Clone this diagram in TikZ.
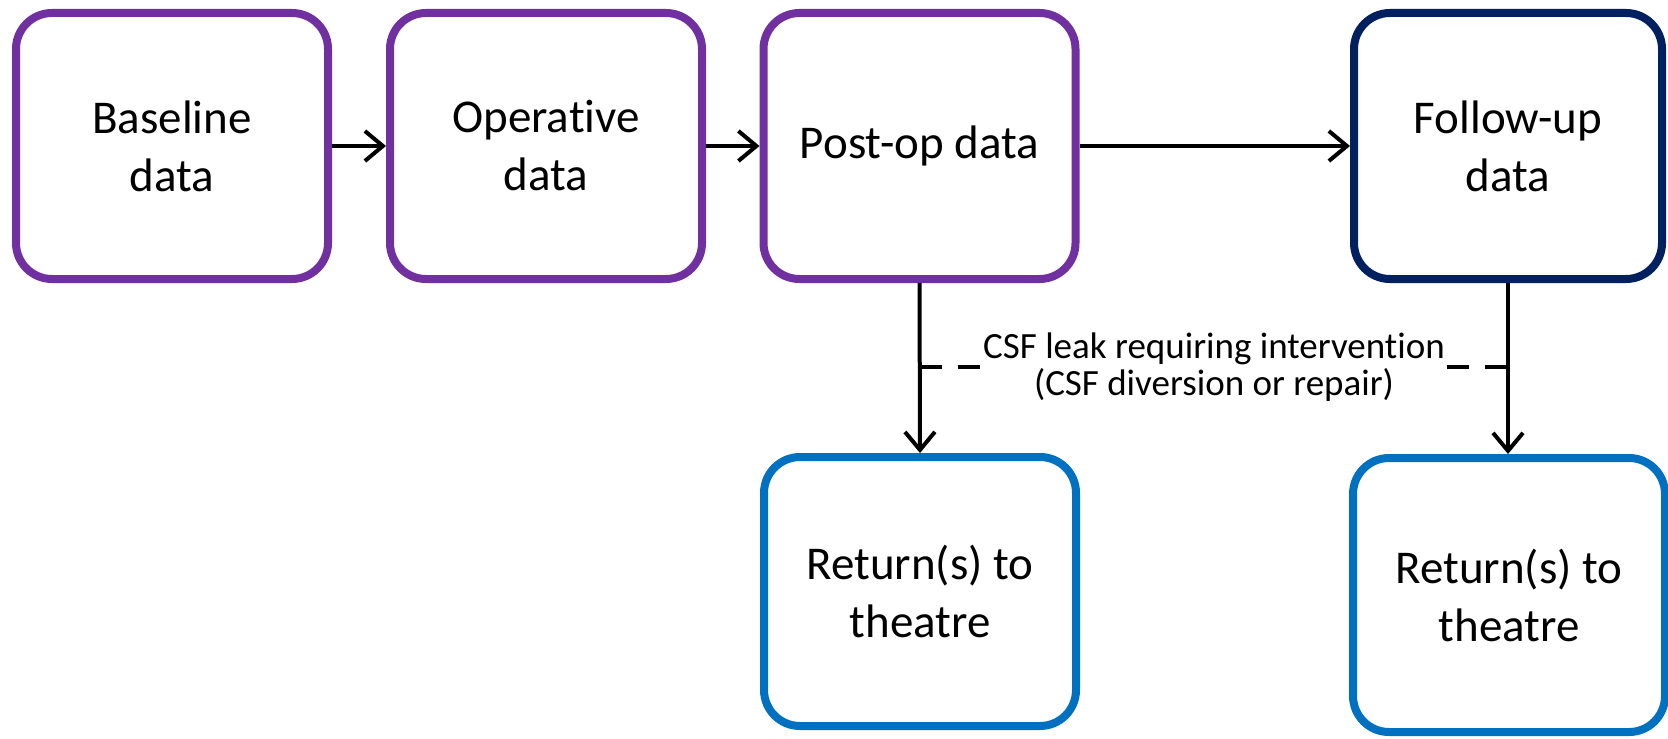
\documentclass[tikz,border=0pt]{standalone}
\usepackage{fontspec}
\setmainfont{Carlito}[Ligatures=NoCommon]
\usetikzlibrary{arrows.meta}

\definecolor{stagepurple}{HTML}{7030A0}
\definecolor{stagenavy}{HTML}{002060}
\definecolor{theatreblue}{HTML}{0070C0}

\begin{document}
\begin{tikzpicture}[x=0.5pt,y=-0.5pt,
  stage/.style={rectangle,rounded corners=18pt,draw=#1,line width=4pt,fill=white,
    minimum width=156pt,minimum height=133pt,align=center,
    font=\fontsize{23.5}{29}\selectfont},
  flow/.style={line width=2pt,-{Straight Barb[length=9pt,width=15pt]}},
  leakline/.style={line width=2pt,dash pattern=on 11pt off 8pt}]
\useasboundingbox (0,0) rectangle (1668,738);

% main row
\node [stage=stagepurple] (base) at (172,146) {Baseline\\data};
\node [stage=stagepurple] (oper) at (546,146) {Operative\\data};
\node [stage=stagepurple] (post) at (919.5,146) {Post-op data};
\node [stage=stagenavy,minimum width=154pt] (follow) at (1508,146) {Follow-up\\data};

% returns to theatre
\node [stage=theatreblue,minimum height=134.5pt] (ret1) at (920,591.5) {Return(s) to\\theatre};
\node [stage=theatreblue,minimum height=137pt] (ret2) at (1509,595) {Return(s) to\\theatre};

\node [font=\fontsize{18.5}{18.5}\selectfont,align=center,inner sep=1pt] (leak) at (1214,367)
  {CSF leak requiring intervention\\(CSF diversion or repair)};

\draw [flow] (base) -- (oper);
\draw [flow] (oper) -- (post);
\draw [flow] (post) -- (follow);
\draw [flow] (post.south) -- (ret1.north);
\draw [flow] (follow.south) -- (follow.south |- ret2.north);

\draw [leakline] (post.south |- leak.west) -- (leak.west);
\draw [leakline] (leak.east) -- (follow.south |- leak.east);
\end{tikzpicture}
\end{document}
